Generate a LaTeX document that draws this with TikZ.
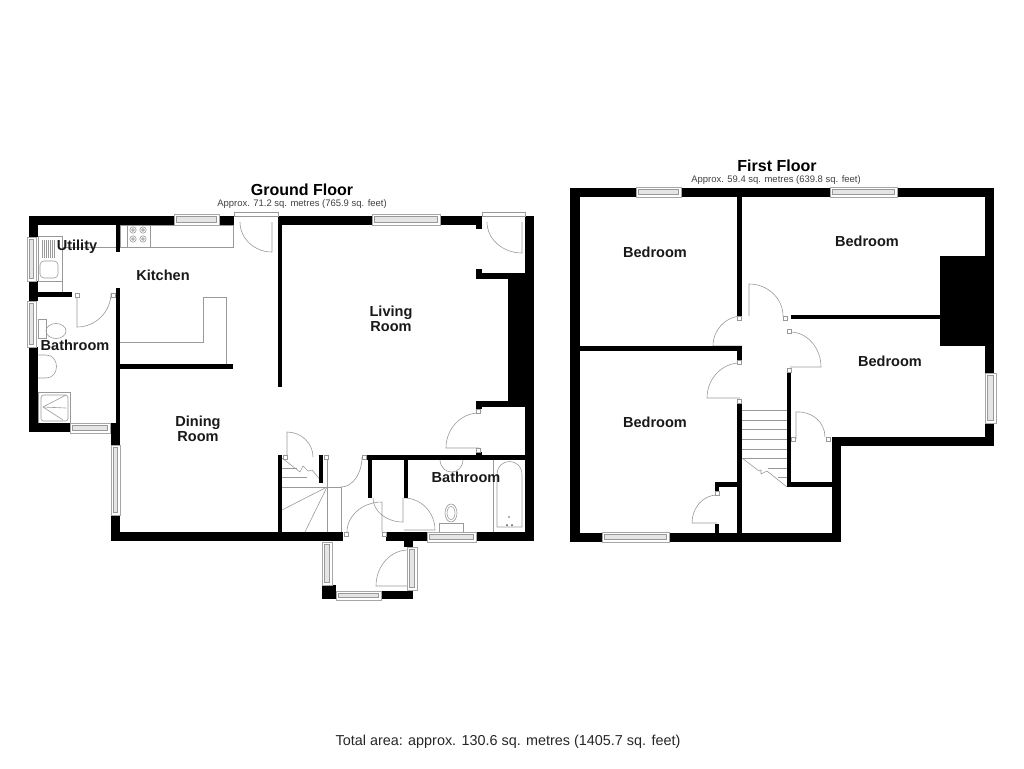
\documentclass[tikz,border=0pt]{standalone}
\usepackage{fontspec}
\setmainfont{Liberation Sans}
\tikzset{
	wall/.style={fill=black},
	fixture/.style={draw=black!40,line width=0.45pt},
	glazing/.style={draw=black!35,fill=white,line width=0.45pt},
	pane/.style={draw=black!40,fill=black!10,line width=0.35pt},
	jamb/.style={draw=black!40,fill=white,line width=0.4pt},
	roomlabel/.style={font=\fontsize{10.9}{11.6}\selectfont\bfseries,align=center,text=black!90,inner sep=0pt},
	floorlabel/.style={font=\fontsize{12}{13}\selectfont\bfseries,inner sep=0pt},
	arealabel/.style={font=\fontsize{7.1}{8}\selectfont,text=black!75,inner sep=0pt},
	totallabel/.style={font=\fontsize{10.8}{12}\selectfont,text=black!85,inner sep=0pt}
}
% wall: left, top, right, bottom
\newcommand{\wallbox}[4]{\fill[wall] (#1,#2) rectangle (#3,#4);}
\newcommand{\sash}[4]{\draw[glazing] (#1,#2) rectangle (#3,#4); \draw[pane] (#1+2.5,#2+2.5) rectangle (#3-2.5,#4-2.5);}
% door: hinge, leaf tip, end of swing
\newcommand{\swing}[6]{\draw[fixture] (#1,#2) -- (#3,#4) .. controls ({#3+.55*(#5-#1)},{#4+.55*(#6-#2)}) and ({#5+.55*(#3-#1)},{#6+.55*(#4-#2)}) .. (#5,#6);}
\newcommand{\jambbox}[2]{\draw[jamb] (#1-2,#2-2) rectangle (#1+2,#2+2);}
\begin{document}
\begin{tikzpicture}[x=0.75pt,y=-0.75pt]
		\useasboundingbox (0,0) rectangle (1024,768);

		% ground floor fittings
		\draw[fixture] (38,236) rectangle (62,281);
		\draw[fixture] (62,281) -- (62,292);
		\draw[fixture] (62,247) -- (116,247);
		\foreach \i in {42,44,46,48,50,52,54} {
			\draw[fixture] (\i,240) -- (\i,258);
		}
		\draw[fixture,rounded corners=3pt] (40,261) rectangle (58,278);
		\draw[fixture] (120,225) rectangle (233,247);
		\draw[fixture] (127,225) rectangle (150,247);
		\foreach \i in {133,143} {
			\foreach \j in {230,239} {
				\draw[fixture] (\i,\j) circle (3.2);
				\draw[fixture] (\i,\j) circle (1.4);
			}
		}
		\draw[fixture] (120,342) -- (203,342) -- (203,297) -- (226,297) -- (226,364);
		\draw[fixture] (38,319) rectangle (46,338);
		\draw[fixture] (56,331) ellipse (10 and 7.5);
		\draw[fixture] (38,355) -- (46,355) .. controls (60,355) and (60,378) .. (46,378) -- (38,378);
		\draw[fixture] (38,392) rectangle (70,423);
		\draw[fixture,rounded corners=2pt] (41,395) rectangle (68,421);
		\draw[fixture] (43,407) -- (66,395);
		\draw[fixture] (43,407) -- (66,408);
		\draw[fixture] (43,407) -- (63,420);

		\swing{272}{222}{272}{252}{240}{222}
		\swing{77}{293}{77}{327}{111}{293}
		\swing{522}{222}{522}{253}{487}{222}

		% living room cupboards
		\swing{479}{448}{446}{448}{479}{413}
		\swing{287}{457}{287}{432}{313}{457}

		% stairs
		\draw[fixture] (282,487) -- (327,487);
		\draw[fixture] (282,477) -- (307,477);
		\draw[fixture] (282,468) -- (297,468);
		\draw[fixture] (282,458) -- (300,472) -- (303,466) -- (308,471) -- (312,470) -- (323,483);
		\draw[fixture] (327,487) -- (282,510);
		\draw[fixture] (327,487) -- (305,532);
		\draw[fixture] (327,455) -- (327,532);
		\draw[fixture] (341,487) -- (341,532);
		\draw[fixture] (327,487) -- (341,487);

		% hall and bathroom doors
		\draw[fixture] (341,487) .. controls (353,487) and (362,473) .. (362,457);
		\swing{382}{532}{382}{502}{347}{532}
		\swing{403}{498}{403}{522}{373}{498}
		\swing{404}{530}{435}{530}{404}{498}
		\swing{408}{586}{376}{586}{408}{550}

		% bathroom fittings
		\draw[fixture] (440,460) .. controls (441,476) and (462,476) .. (463,460);
		\draw[fixture] (451,513) ellipse (6 and 9);
		\draw[fixture] (451,513) ellipse (4 and 6.5);
		\draw[fixture] (439,523) rectangle (463,532);
		\draw[fixture] (493,460) -- (493,532);
		\draw[fixture] (497,527) -- (497,475) .. controls (497,457) and (522,457) .. (522,475) -- (522,527) -- cycle;
		\fill[black!60] (509,517) circle (0.8);
		\fill[black!70] (507,525) circle (1);
		\fill[black!70] (512,525) circle (1);

		% first floor doors
		\swing{749}{316}{749}{284}{783}{316}
		\swing{742}{346}{713}{346}{742}{316}
		\swing{790}{367}{821}{367}{790}{332}
		\swing{740}{398}{707}{398}{740}{363}
		\swing{796}{439}{796}{412}{825}{437}
		\swing{717}{523}{692}{523}{717}{495}

		% first floor stairs
		\foreach \j in {410,420,429,439,449,458} {
			\draw[fixture] (742,\j) -- (787,\j);
		}
		\draw[fixture] (768,468) -- (787,468);
		\draw[fixture] (778,477) -- (787,477);
		\draw[fixture] (742,458) -- (759,471) -- (761,470) -- (761,474) -- (767,471) -- (787,487);

		% ground floor walls
		\wallbox{29}{216}{174}{225}
		\wallbox{219}{216}{234}{225}
		\wallbox{278}{216}{372}{225}
		\wallbox{440}{216}{482}{225}
		\wallbox{476}{225}{482}{229}
		\wallbox{525}{216}{534}{541}
		\wallbox{29}{216}{38}{237}
		\wallbox{29}{281}{38}{301}
		\wallbox{38}{292}{72}{297}
		\wallbox{29}{347}{38}{432}
		\wallbox{29}{423}{70}{432}
		\wallbox{116}{225}{120}{252}
		\wallbox{116}{288}{120}{423}
		\wallbox{111}{423}{120}{445}
		\wallbox{111}{515}{120}{541}
		\wallbox{120}{364}{233}{369}
		\wallbox{278}{216}{282}{387}
		\wallbox{476}{269}{482}{279}
		\wallbox{476}{273}{509}{279}
		\wallbox{508}{273}{525}{407}
		\wallbox{476}{401}{525}{407}
		\wallbox{476}{401}{482}{409}
		\wallbox{476}{452}{482}{460}
		\wallbox{367}{455}{525}{460}
		\wallbox{368}{455}{372}{498}
		\wallbox{404}{460}{408}{498}
		\wallbox{278}{455}{282}{532}
		\wallbox{319}{455}{323}{483}
		\wallbox{111}{532}{343}{541}
		\wallbox{386}{532}{427}{541}
		\wallbox{476}{532}{534}{541}
		\wallbox{404}{541}{413}{547}
		\wallbox{322}{585}{336}{599}
		\wallbox{381}{591}{413}{599}

		% ground floor windows
		\sash{174}{214}{219}{225}
		\sash{372}{214}{440}{225}
		\sash{27}{237}{36}{281}
		\sash{27}{301}{36}{347}
		\sash{70}{423}{110}{433}
		\sash{111}{445}{120}{515}
		\sash{427}{532}{476}{542}
		\sash{322}{542}{332}{585}
		\sash{336}{591}{381}{600}
		\sash{407}{547}{417}{590}
		\draw[fixture] (234,212) rectangle (278,216);
		\draw[fixture] (482,212) rectangle (525,216);

		% first floor walls
		\wallbox{570}{188}{994}{197}
		\wallbox{570}{188}{580}{542}
		\wallbox{570}{533}{841}{542}
		\wallbox{985}{188}{994}{373}
		\wallbox{985}{423}{994}{446}
		\wallbox{832}{437}{994}{446}
		\wallbox{832}{437}{841}{542}
		\wallbox{737}{197}{742}{316}
		\wallbox{580}{346}{742}{351}
		\wallbox{737}{346}{742}{360}
		\wallbox{737}{403}{742}{533}
		\wallbox{791}{315}{940}{319}
		\wallbox{940}{256}{985}{346}
		\wallbox{787}{372}{791}{487}
		\wallbox{787}{482}{832}{487}
		\wallbox{715}{482}{737}{487}
		\wallbox{715}{482}{719}{492}
		\wallbox{715}{524}{719}{533}

		% first floor windows
		\sash{636}{187}{681}{197}
		\sash{830}{187}{897}{197}
		\sash{985}{373}{996}{423}
		\sash{602}{532}{669}{542}

		% door jambs
		\foreach \i/\j in {77/295,113/295,739/318,785/318,789/331,739/362,789/370,739/401,793/439,828/439,717/493,478/411,478/450,326/457,285/457,364/457,346/534,384/534} {
			\jambbox{\i}{\j}
		}

		\begin{scope}[every node/.style={roomlabel}]
			\node (utility) at (77,247) {Utility};
			\node (kitchen) at (163,275) {Kitchen};
			\node (bathsmall) at (75,345) {Bathroom};
			\node (dining) at (198,429) {Dining\\Room};
			\node (living) at (391,319) {Living\\Room};
			\node (bathmain) at (466,477) {Bathroom};
			\node (bedone) at (655,252) {Bedroom};
			\node (bedtwo) at (867,241) {Bedroom};
			\node (bedthree) at (890,361) {Bedroom};
			\node (bedfour) at (655,422) {Bedroom};
		\end{scope}

		\node[floorlabel] (ground) at (302,190) {Ground Floor};
		\node[arealabel] (groundarea) at (302,204) {Approx. 71.2 sq. metres (765.9 sq. feet)};
		\node[floorlabel] (first) at (777,166) {First Floor};
		\node[arealabel] (firstarea) at (776,180) {Approx. 59.4 sq. metres (639.8 sq. feet)};
		\node[totallabel] (total) at (508,742) {Total area: approx. 130.6 sq. metres (1405.7 sq. feet)};
		\end{tikzpicture}
\end{document}
